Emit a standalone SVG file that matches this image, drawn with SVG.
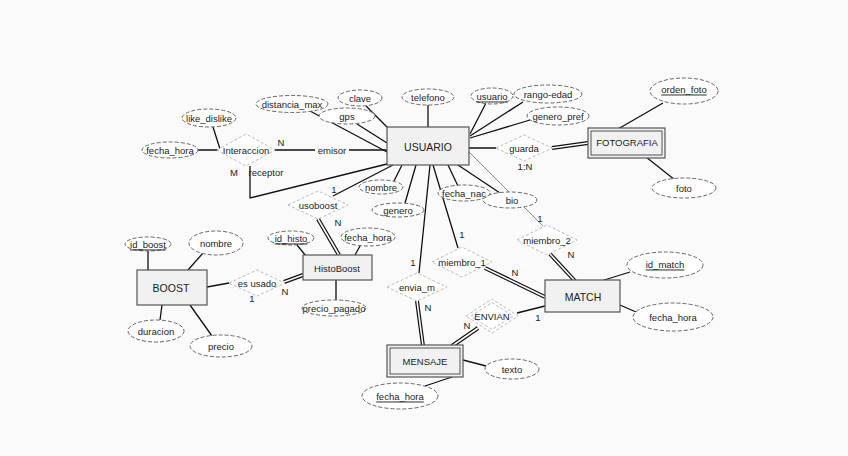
<svg xmlns="http://www.w3.org/2000/svg" width="848" height="456" viewBox="0 0 848 456">
<style>
.t{font-family:"Liberation Sans",Arial,sans-serif;font-size:9.5px;fill:#222;text-anchor:middle;dominant-baseline:central}
.te{font-family:"Liberation Sans",Arial,sans-serif;font-size:10.5px;fill:#222;text-anchor:middle;dominant-baseline:central}
.ent{fill:#f1f1f1;stroke:#555;stroke-width:1.2}
.attr{fill:#fff;stroke:#666;stroke-width:1;stroke-dasharray:4 2}
.rel{fill:#fff;stroke:#bbb;stroke-width:1;stroke-dasharray:3 2}
.ln{stroke:#111;stroke-width:1.3;fill:none}
.gl{stroke:#888;stroke-width:1;fill:none}
.db{stroke:#111;stroke-width:4;fill:none}
.dw{stroke:#fafafa;stroke-width:1.6;fill:none}
</style>
<rect width="848" height="456" fill="#fafafa"/>
<g id="connectors">
<path class="ln" d="M275 150H387M250 166V198L387 164M213 127L220 149M198 150H218"/>
<path class="ln" d="M310 111L387 152M357 124L387 143M366 106L388 128M428 105V127M486 103L470 134M523 102L470 136M530 120L470 138"/>
<path class="ln" d="M394 181L402 165M405 203L416 165M430 165L419 273M433 165L458 248M448 165L458 186M458 165L500 193"/>
<path class="gl" d="M469 152L543 226"/>
<path class="ln" d="M469 148H496M618 129L663 103M646 157L675 180"/>
<path class="ln" d="M333 196L393 165M297 245L306 256M360 246L355 255M336 280V300M207 287L229 283"/>
<path class="ln" d="M148 251V270M203 253L188 270M160 320L162 305M212 336L190 305"/>
<path class="ln" d="M601 281L630 272M620 305L636 312M517 313L545 306M463 360L486 366M452 377L425 386"/>
<path class="db" d="M552 148L588 143M318 219L339 255M284 282L303 275M485 268L545 297M550 254L575 281M417 301L423 346M478 328L452 346"/>
<path class="dw" d="M552 148L588 143M318 219L339 255M284 282L303 275M485 268L545 297M550 254L575 281M417 301L423 346M478 328L452 346"/>
<rect x="315" y="144" width="34" height="12" fill="#fafafa"/>
<text class="t" x="332" y="150" font-size="9">emisor</text>
<text class="t" x="266" y="172" font-size="9">receptor</text>
<text class="t" x="281" y="142">N</text>
<text class="t" x="234" y="172">M</text>
<text class="t" x="525" y="166" font-size="9">1:N</text>
<text class="t" x="334" y="189">1</text>
<text class="t" x="338" y="222">N</text>
<text class="t" x="285" y="291">N</text>
<text class="t" x="252" y="298">1</text>
<text class="t" x="462" y="234">1</text>
<text class="t" x="515" y="272">N</text>
<text class="t" x="540" y="218">1</text>
<text class="t" x="571" y="254">N</text>
<text class="t" x="413" y="262">1</text>
<text class="t" x="428" y="307">N</text>
<text class="t" x="467" y="325">N</text>
<text class="t" x="538" y="317">1</text>
</g>
<g id="usuario"><rect class="ent" x="387" y="127" width="82" height="38"/><text class="te" x="428" y="147">USUARIO</text></g>
<g id="fotografia"><rect class="ent" x="588" y="128" width="77" height="30"/><rect fill="none" stroke="#555" x="591" y="131" width="71" height="24"/><text class="t" x="627" y="142" font-size="10">FOTOGRAFIA</text></g>
<g id="boost"><rect class="ent" x="137" y="270" width="70" height="35"/><text class="te" x="171" y="288">BOOST</text></g>
<g id="histoboost"><rect class="ent" x="303" y="255" width="69" height="25"/><text class="t" x="337" y="268" font-size="9">HistoBoost</text></g>
<g id="match"><rect class="ent" x="545" y="280" width="75" height="32"/><text class="te" x="583" y="297">MATCH</text></g>
<g id="mensaje"><rect class="ent" x="387" y="345" width="76" height="32"/><rect fill="none" stroke="#555" x="390" y="348" width="70" height="26"/><text class="t" x="425" y="361">MENSAJE</text></g>
<g id="interaccion"><polygon class="rel" points="217,150 246,134 275,150 246,166"/><text class="t" x="246" y="150">Interaccion</text></g>
<g id="guarda"><polygon class="rel" points="496,148 524,135 552,148 524,161"/><text class="t" x="524" y="148">guarda</text></g>
<g id="usoboost"><polygon class="rel" points="288,205 318,191 348,205 318,219"/><text class="t" x="318" y="205" font-size="9">usoboost</text></g>
<g id="esusado"><polygon class="rel" points="229,283 257,270 285,283 257,296"/><text class="t" x="257" y="283" font-size="9">es usado</text></g>
<g id="miembro2"><polygon class="rel" points="517,240 547,225 577,240 547,255"/><text class="t" x="547" y="240" font-size="9">miembro_2</text></g>
<g id="miembro1"><polygon class="rel" points="432,262 462,247 492,262 462,277"/><text class="t" x="462" y="262" font-size="9">miembro_1</text></g>
<g id="envia_m"><polygon class="rel" points="387,287 417,273 447,287 417,301"/><text class="t" x="417" y="287" font-size="9">envia_m</text></g>
<g id="envian"><polygon class="rel" points="466,316 492,299 518,316 492,333"/><polygon class="rel" points="471,316 492,302.5 513,316 492,329.5"/><text class="t" x="492" y="316" font-size="9">ENVIAN</text></g>
<g id="a_distancia_max"><ellipse class="attr" cx="292" cy="104" rx="36" ry="8.5"/><text class="t" x="292" y="104">distancia_max</text></g>
<g id="a_clave"><ellipse class="attr" cx="360" cy="98" rx="22" ry="8"/><text class="t" x="360" y="98">clave</text></g>
<g id="a_gps"><ellipse class="attr" cx="347" cy="116" rx="28" ry="8"/><text class="t" x="347" y="116">gps</text></g>
<g id="a_telefono"><ellipse class="attr" cx="428" cy="97" rx="26" ry="8"/><text class="t" x="428" y="97">telefono</text></g>
<g id="a_usuario"><ellipse class="attr" cx="492" cy="96" rx="21" ry="8"/><text class="t" x="492" y="96" text-decoration="underline">usuario</text></g>
<g id="a_rango_edad"><ellipse class="attr" cx="548" cy="94" rx="34" ry="9"/><text class="t" x="548" y="94">rango-edad</text></g>
<g id="a_genero_pref"><ellipse class="attr" cx="558" cy="116" rx="31" ry="9"/><text class="t" x="558" y="116">genero_pref</text></g>
<g id="a_bio"><ellipse class="attr" cx="510" cy="200" rx="27" ry="8"/><text class="t" x="512" y="200">bio</text></g>
<g id="a_fecha_nac"><ellipse class="attr" cx="464" cy="193" rx="26" ry="8"/><text class="t" x="464" y="193">fecha_nac</text></g>
<g id="a_nombre_u"><ellipse class="attr" cx="381" cy="187" rx="22" ry="7"/><text class="t" x="381" y="187">nombre</text></g>
<g id="a_genero"><ellipse class="attr" cx="398" cy="210" rx="26" ry="7"/><text class="t" x="398" y="210">genero</text></g>
<g id="a_like_dislike"><ellipse class="attr" cx="209" cy="118" rx="27" ry="9"/><text class="t" x="209" y="118">like_dislike</text></g>
<g id="a_fecha_hora_i"><ellipse class="attr" cx="170" cy="150" rx="28" ry="8"/><text class="t" x="170" y="150">fecha_hora</text></g>
<g id="a_orden_foto"><ellipse class="attr" cx="684" cy="91" rx="34" ry="13"/><text class="t" x="684" y="89" text-decoration="underline">orden_foto</text></g>
<g id="a_foto"><ellipse class="attr" cx="684" cy="188" rx="32" ry="10"/><text class="t" x="684" y="188">foto</text></g>
<g id="a_id_histo"><ellipse class="attr" cx="291" cy="238" rx="23" ry="7"/><text class="t" x="291" y="238" text-decoration="underline">id_histo</text></g>
<g id="a_fecha_hora_h"><ellipse class="attr" cx="368" cy="237" rx="27" ry="9"/><text class="t" x="368" y="237">fecha_hora</text></g>
<g id="a_precio_pagado"><ellipse class="attr" cx="334" cy="308" rx="32" ry="8"/><text class="t" x="334" y="308">precio_pagado</text></g>
<g id="a_id_boost"><ellipse class="attr" cx="148" cy="244" rx="23" ry="7"/><text class="t" x="148" y="244" text-decoration="underline">id_boost</text></g>
<g id="a_nombre_b"><ellipse class="attr" cx="216" cy="243" rx="27" ry="12"/><text class="t" x="216" y="243">nombre</text></g>
<g id="a_duracion"><ellipse class="attr" cx="156" cy="331" rx="28" ry="11"/><text class="t" x="156" y="331">duracion</text></g>
<g id="a_precio"><ellipse class="attr" cx="221" cy="346" rx="31" ry="11"/><text class="t" x="221" y="346">precio</text></g>
<g id="a_id_match"><ellipse class="attr" cx="665" cy="265" rx="38" ry="13"/><text class="t" x="665" y="264" text-decoration="underline">id_match</text></g>
<g id="a_fecha_hora_m"><ellipse class="attr" cx="673" cy="317" rx="40" ry="14"/><text class="t" x="673" y="317">fecha_hora</text></g>
<g id="a_texto"><ellipse class="attr" cx="512" cy="369" rx="27" ry="10"/><text class="t" x="512" y="369">texto</text></g>
<g id="a_fecha_hora_ms"><ellipse class="attr" cx="400" cy="396" rx="38" ry="13"/><text class="t" x="400" y="396" text-decoration="underline">fecha_hora</text></g>
</svg>
